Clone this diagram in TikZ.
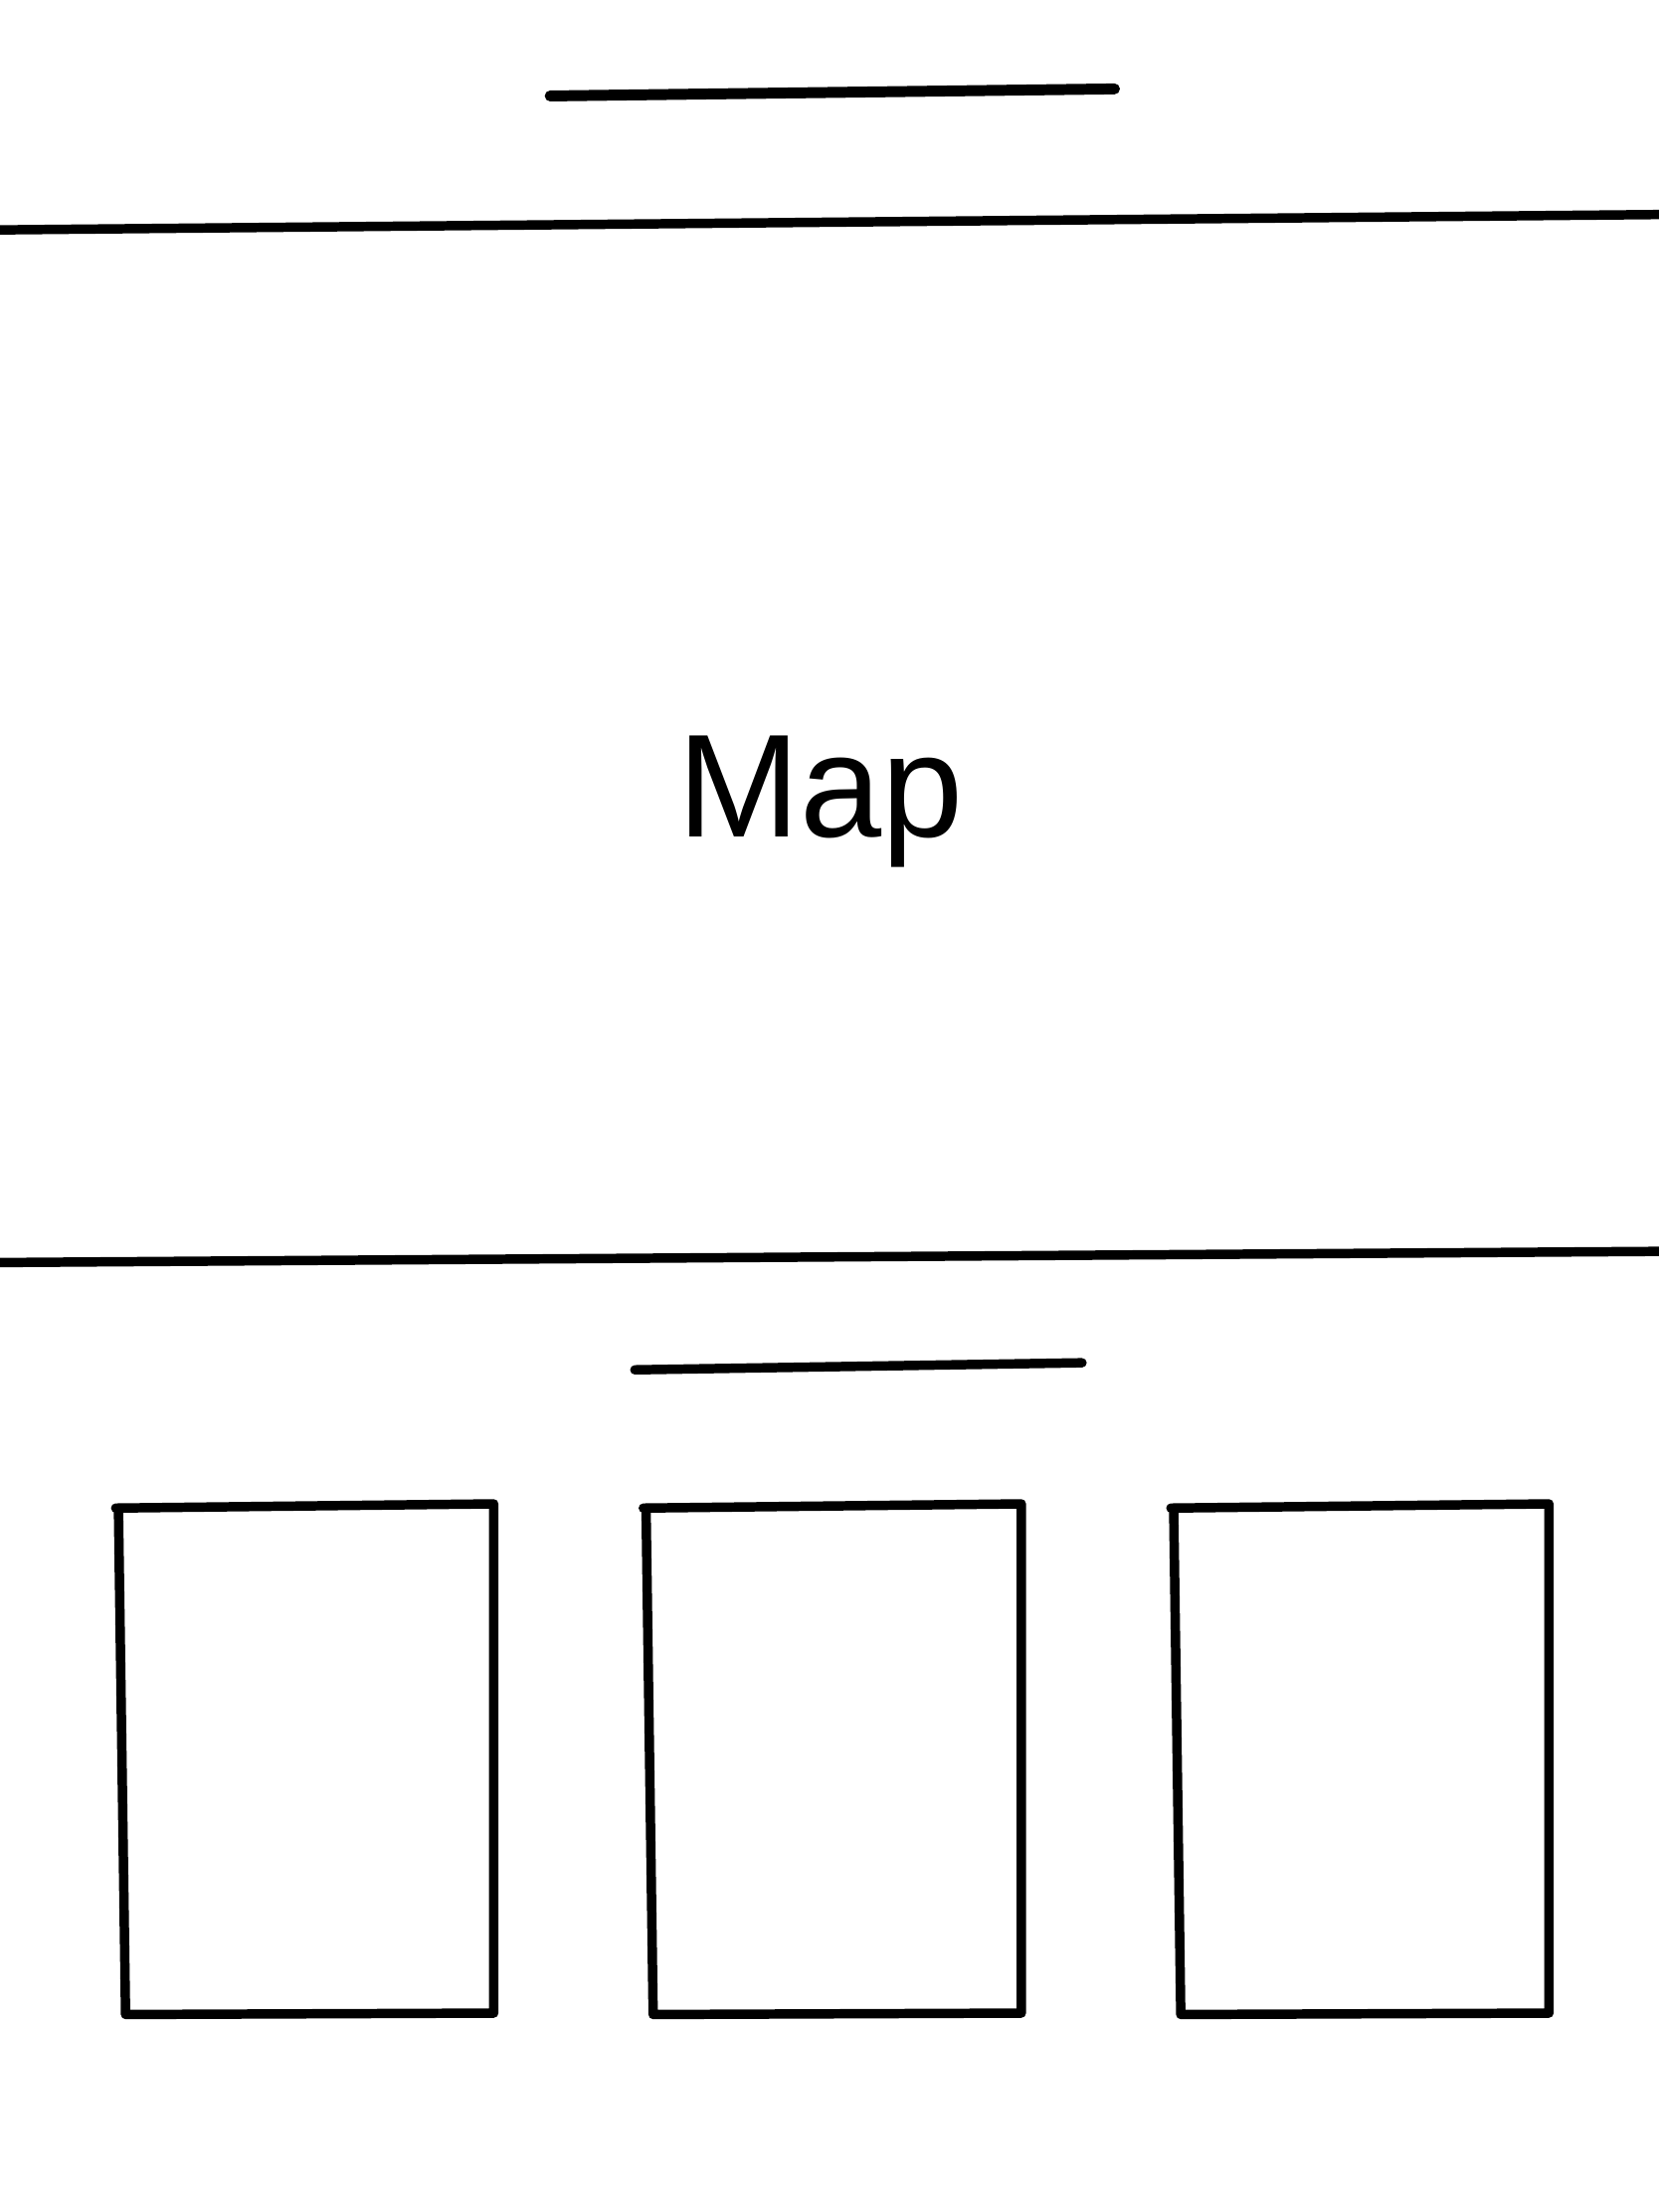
\documentclass[tikz,border=0pt]{standalone}
\usepackage{fontspec}
\setmainfont{Liberation Sans}
\usepackage{xcolor}

\begin{document}
\begin{tikzpicture}[x=0.01cm,y=-0.01cm,line cap=round,line join=round]
\useasboundingbox (0,0) rectangle (1176,1568);

\draw[line width=2.2pt] (390,68) -- (790,63);
\draw[line width=1.9pt] (-5,163) -- (1181,152);

\node (map) at (582,568) {\fontsize{29.6}{32}\selectfont Map};

\draw[line width=1.9pt] (-5,895) -- (1181,887);
\draw[line width=1.9pt] (450,971) -- (767,966);

\foreach \dx in {0,374,748}{
  \draw[line width=1.9pt] (82+\dx,1069) -- (350+\dx,1066) -- (350+\dx,1427)
     -- (89+\dx,1428) -- (84+\dx,1072);
}
\end{tikzpicture}
\end{document}
